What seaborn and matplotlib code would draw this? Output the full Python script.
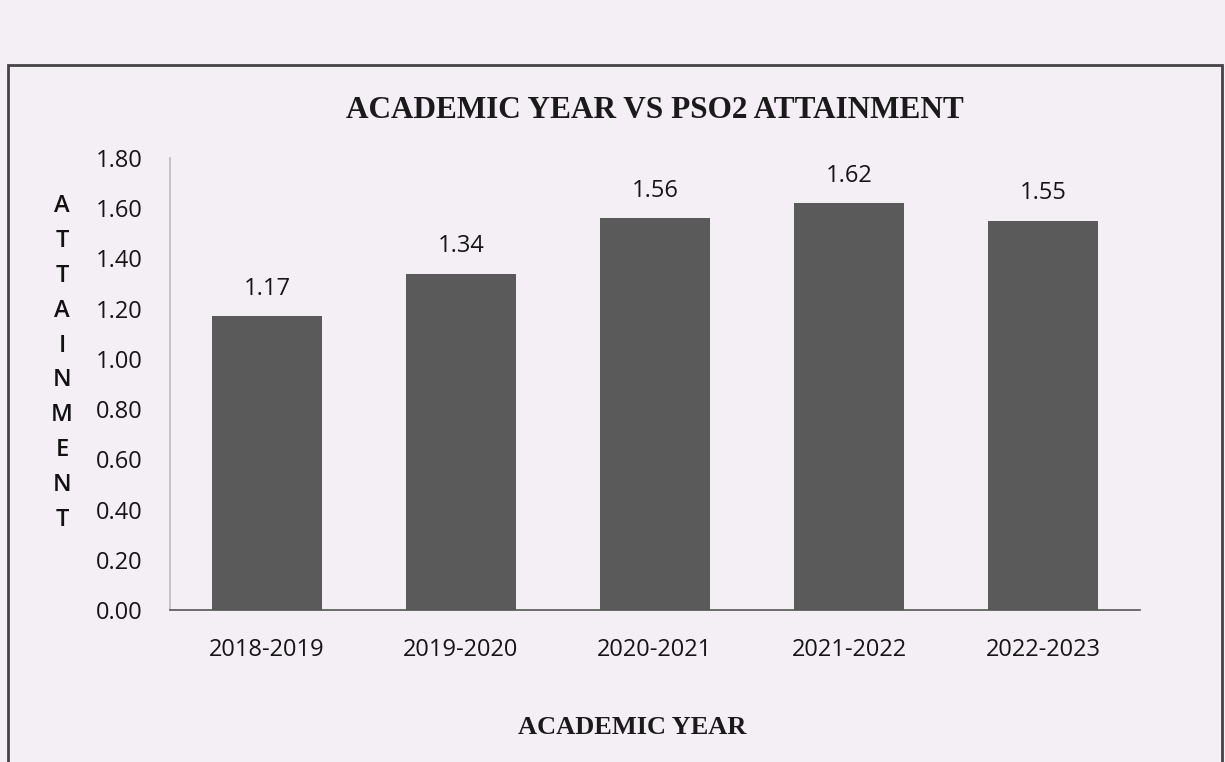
import matplotlib
matplotlib.use("Agg")
import matplotlib.pyplot as plt
import seaborn as sns
import pandas as pd
from matplotlib.patches import Rectangle

years = ["2018-2019", "2019-2020", "2020-2021", "2021-2022", "2022-2023"]
attainment = [1.17, 1.34, 1.56, 1.62, 1.55]
yticks = [0.0, 0.2, 0.4, 0.6, 0.8, 1.0, 1.2, 1.4, 1.6, 1.8]

bg = "#f4eff5"
bar_color = "#5a5a5a"
sans = "Open Sans"
serif = "Liberation Serif"
txt = "#151515"

sns.set_style("white")
plt.rcParams["font.family"] = [sans, "DejaVu Sans"]

fig = plt.figure(figsize=(12.25, 7.62), dpi=100, facecolor=bg)
ax = fig.add_axes([170/1225, 1-610/762, 970/1225, (610-158)/762])
ax.set_facecolor(bg)

df = pd.DataFrame({"year": years, "val": attainment})
sns.barplot(data=df, x="year", y="val", color=bar_color, width=0.567,
            saturation=1, ax=ax, edgecolor="none")

ax.set_ylim(0, 1.8)
ax.set_xlim(-0.5, 4.5)
ax.set_yticks(yticks)
ax.set_yticklabels([f"{v:.2f}" for v in yticks], fontsize=17, color=txt)
ax.tick_params(axis="y", length=0, pad=20)
ax.tick_params(axis="x", length=0, pad=20, labelsize=17, labelcolor=txt)
ax.set_xlabel("")
ax.set_ylabel("")
for s in ["top", "right"]:
    ax.spines[s].set_visible(False)
ax.spines["left"].set_color("#b8b8c0")
ax.spines["left"].set_linewidth(1.2)
ax.spines["bottom"].set_color("#555555")
ax.spines["bottom"].set_linewidth(1.2)

for i, v in enumerate(attainment):
    ax.annotate(f"{v:.2f}", xy=(i, v), xytext=(0, 11), textcoords="offset points",
                ha="center", va="bottom", fontsize=17, color=txt)

fig.text(655/1225, 1-110/762, "ACADEMIC YEAR VS PSO2 ATTAINMENT",
         ha="center", va="center", fontsize=22.5, fontweight="bold",
         family=serif, color="#1a1a1a")
fig.text(632/1225, 1-727/762, "ACADEMIC YEAR", ha="center", va="center",
         fontsize=19, fontweight="bold", family=serif, color="#1a1a1a")
fig.text(62/1225, 1-363/762, "\n".join("ATTAINMENT"), ha="center", va="center",
         fontsize=17, linespacing=1.61, fontweight="semibold", color="#111111")

fig.patches.append(Rectangle((8/1225, -0.1), (1222-8)/1225, 1.1-65/762,
                             transform=fig.transFigure, fill=False,
                             edgecolor="#444444", linewidth=2))

fig.savefig("out.png", dpi=100, facecolor=bg)
